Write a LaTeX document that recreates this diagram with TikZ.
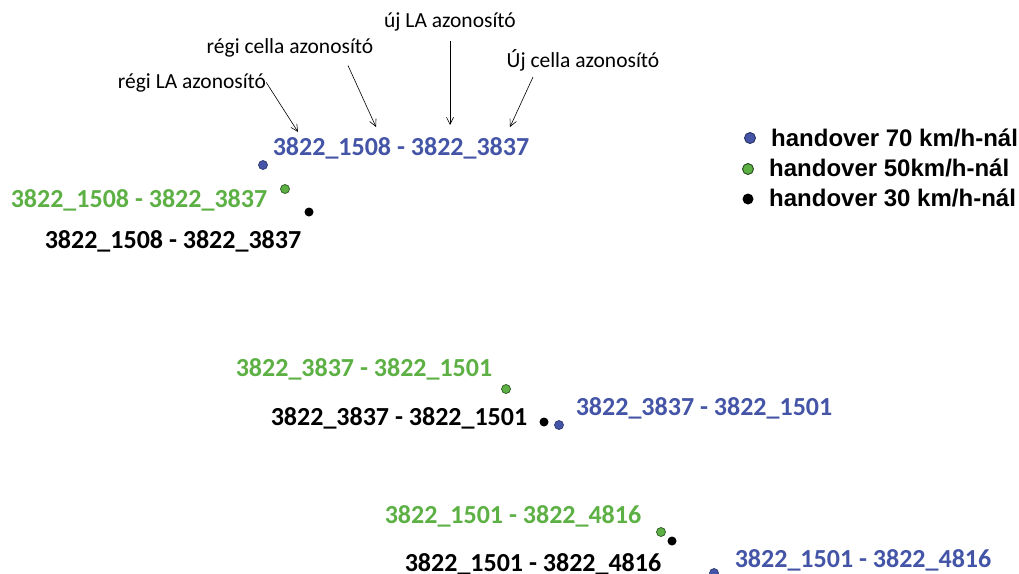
\documentclass[tikz,border=0pt]{standalone}
\usepackage{fontspec}
\setmainfont{Carlito}
\newfontfamily\legendfont{Liberation Sans}
\usetikzlibrary{arrows.meta}

\definecolor{hoblue}{RGB}{68,84,166}
\definecolor{hogreen}{RGB}{92,176,68}

\tikzset{
  idlabel/.style={font=\fontsize{26}{28}\selectfont\bfseries, inner sep=0pt},
  note/.style={font=\fontsize{21.5}{23}\selectfont, inner sep=0pt},
  legtext/.style={font=\legendfont\fontsize{24}{26}\selectfont\bfseries, anchor=west, inner sep=0pt},
  hodot/.style={circle, inner sep=0pt, minimum size=9pt, line width=0.7pt},
  legdot/.style={hodot, minimum size=11pt, line width=0.9pt},
  pointer/.style={-{Straight Barb[length=7pt,width=7pt]}, line width=0.6pt}
}

\begin{document}
\begin{tikzpicture}[x=1pt,y=-1pt]
\useasboundingbox (0,0) rectangle (1019,573);

% annotations above the first handover
\node[note] (regila) at (192,83) {régi LA azonosító};
\node[note] (regicella) at (290,48) {régi cella azonosító};
\node[note] (ujla) at (450,22) {új LA azonosító};
\node[note] (ujcella) at (583,60) {Új cella azonosító};

\coordinate (t1) at (298,132);
\coordinate (t2) at (376,127);
\coordinate (t3) at (450,125);
\coordinate (t4) at (510,127);

\draw[pointer] ([shift={(0,-10)}]regila.south east) -- (t1);
\draw[pointer] ([shift={(58,8)}]regicella.south) -- (t2);
\draw[pointer] ([yshift=-10]ujla.south) -- (t3);
\draw[pointer] ([shift={(-50,6)}]ujcella.south) -- (t4);

% first handover
\node[idlabel, hoblue] (b1) at (401,148) {3822\_1508 - 3822\_3837};
\node[idlabel, hogreen] (g1) at (139,200) {3822\_1508 - 3822\_3837};
\node[idlabel] (k1) at (173,241) {3822\_1508 - 3822\_3837};
\node[hodot, fill=hoblue, draw=hoblue!70!black] (bd1) at (263,165) {};
\node[hodot, fill=hogreen, draw=hogreen!50!black] (gd1) at (285,189) {};
\node[hodot, fill=black] (kd1) at (309,212) {};

% second handover
\node[idlabel, hogreen] (g2) at (364,369) {3822\_3837 - 3822\_1501};
\node[idlabel] (k2) at (399,418) {3822\_3837 - 3822\_1501};
\node[idlabel, hoblue] (b2) at (704,408) {3822\_3837 - 3822\_1501};
\node[hodot, fill=hogreen, draw=hogreen!50!black] (gd2) at (506,389) {};
\node[hodot, fill=black] (kd2) at (544,422) {};
\node[hodot, fill=hoblue, draw=hoblue!70!black] (bd2) at (559,425) {};

% third handover
\node[idlabel, hogreen] (g3) at (513,516) {3822\_1501 - 3822\_4816};
\node[idlabel, anchor=base] (k3) at (533,571) {3822\_1501 - 3822\_4816};
\node[idlabel, hoblue, anchor=base] (b3) at (863,567) {3822\_1501 - 3822\_4816};
\node[hodot, fill=hogreen, draw=hogreen!50!black] (gd3) at (661,532) {};
\node[hodot, fill=black] (kd3) at (672,541) {};
\node[hodot, fill=hoblue, draw=hoblue!70!black] (bd3) at (714,573) {};

% legend
\node[legdot, fill=hoblue, draw=hoblue!60!black] (lb) at (750,138) {};
\node[legdot, fill=hogreen, draw=hogreen!40!black] (lg) at (748,169) {};
\node[legdot, fill=black] (lk) at (748,199) {};
\node[legtext] (lbt) at (771,138) {handover 70 km/h-nál};
\node[legtext] (lgt) at (769,168) {handover 50km/h-nál};
\node[legtext] (lkt) at (769,198) {handover 30 km/h-nál};

\end{tikzpicture}
\end{document}
